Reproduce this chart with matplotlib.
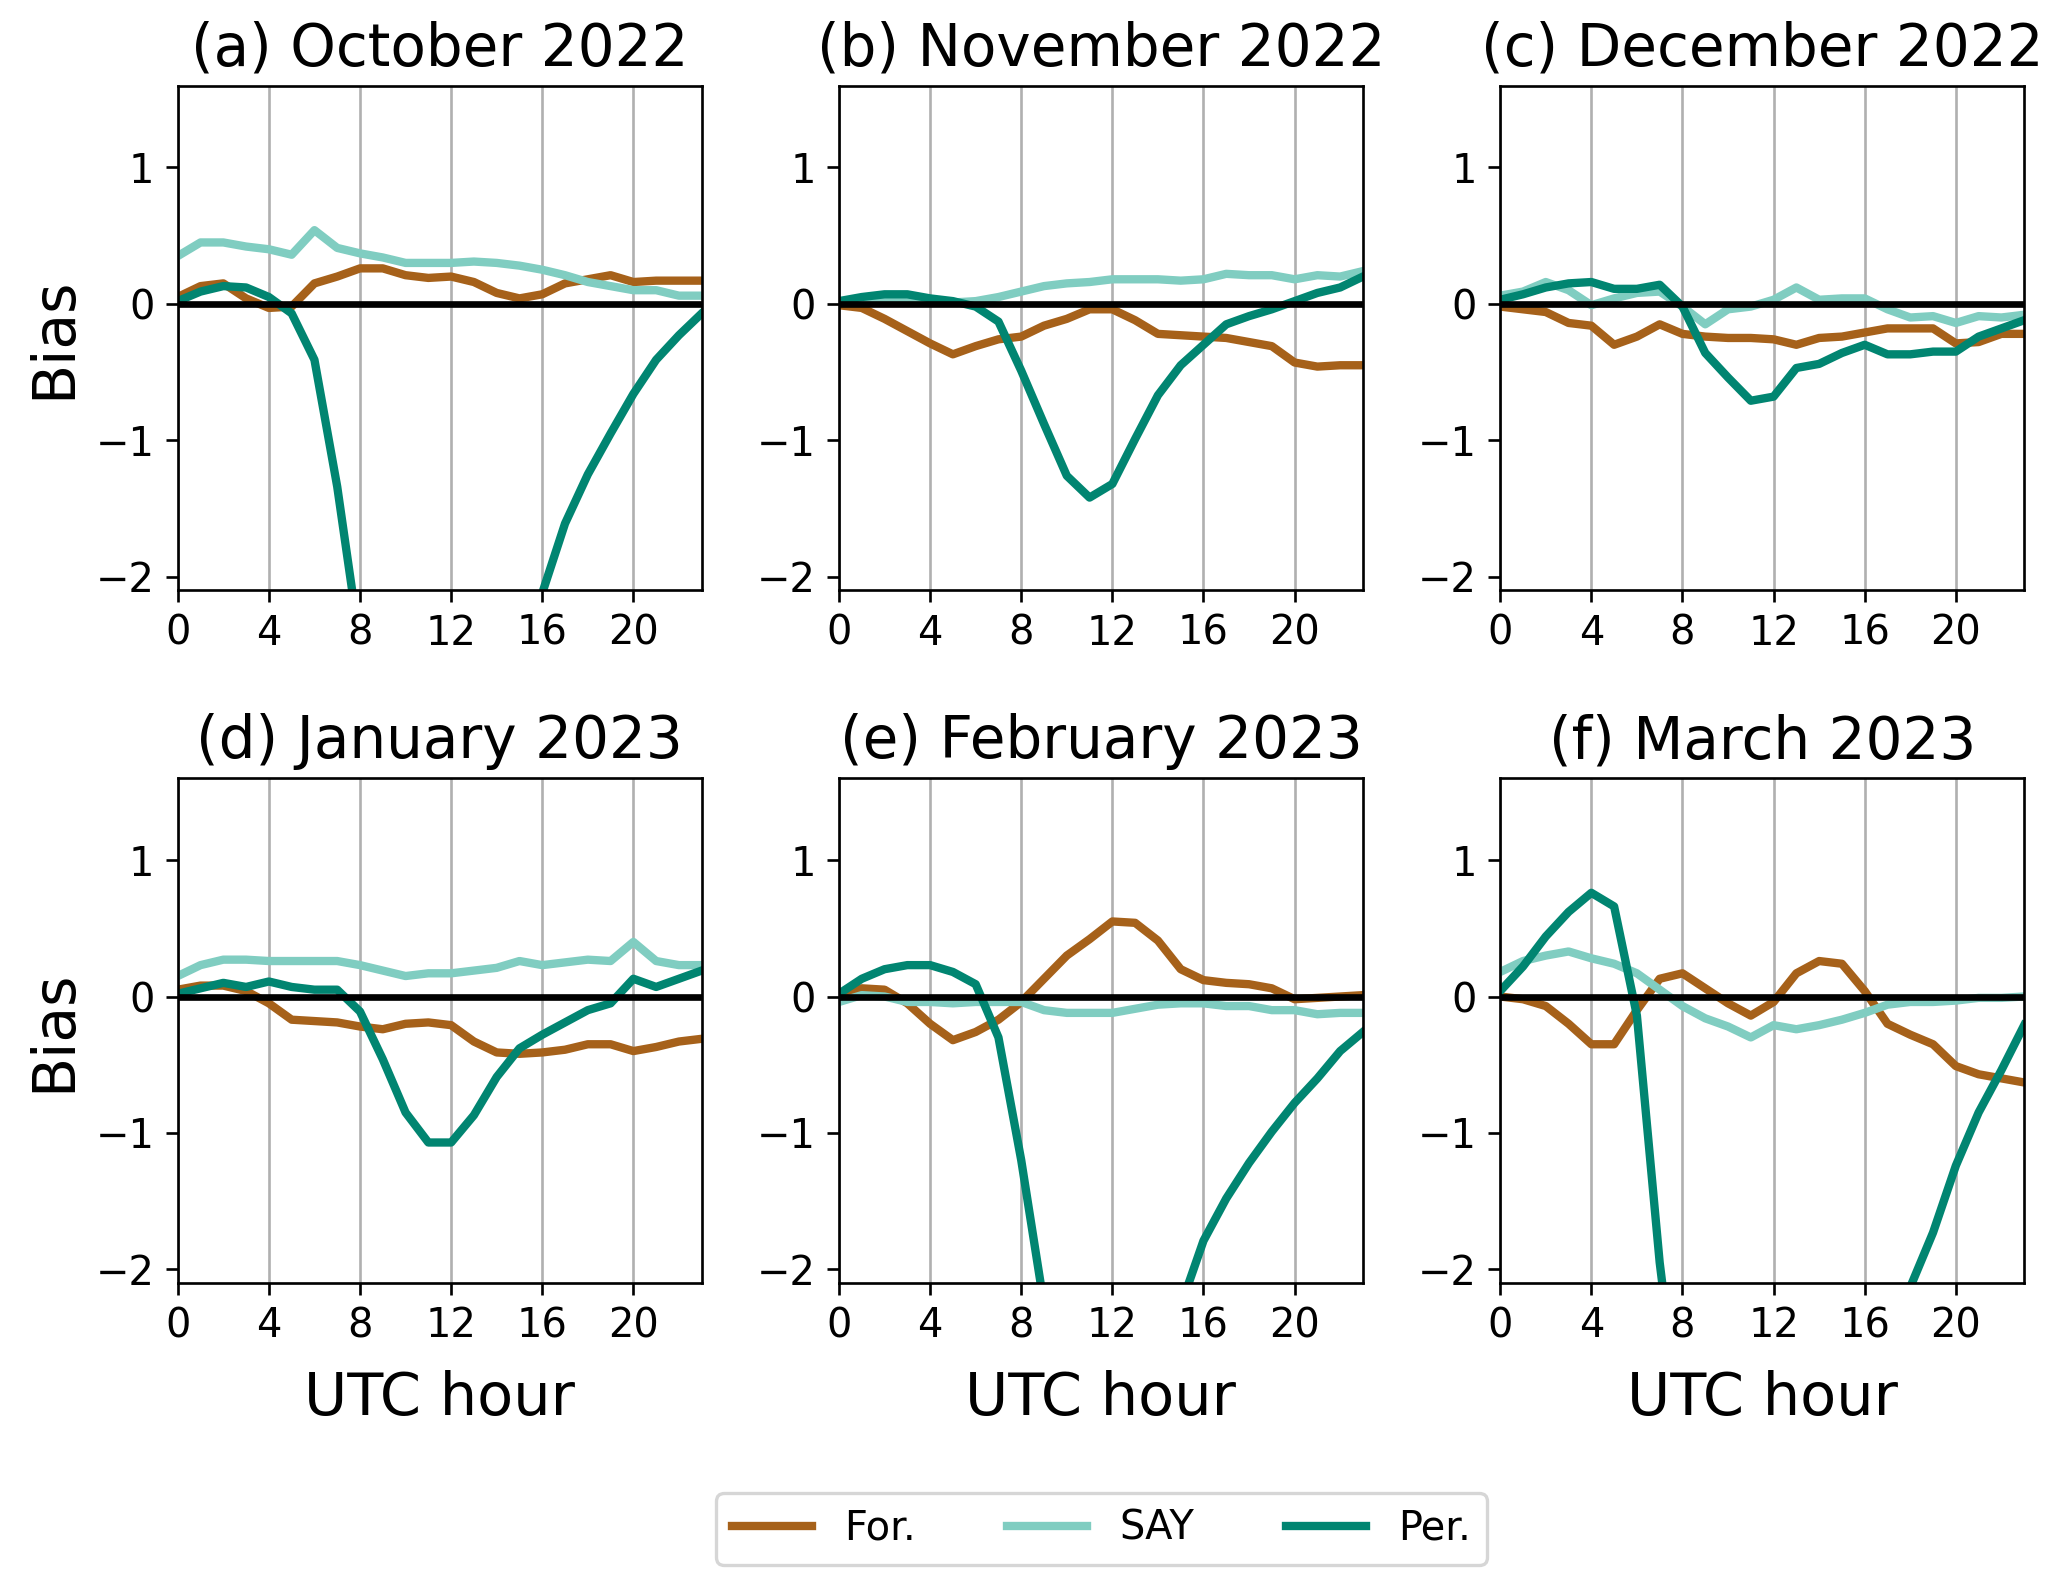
import numpy as np
import matplotlib.pyplot as plt

hours = np.arange(24)

titles = ["(a) October 2022", "(b) November 2022", "(c) December 2022",
          "(d) January 2023", "(e) February 2023", "(f) March 2023"]

# forecast bias
fore_oct = [0.05, 0.13, 0.15, 0.04, -0.03, -0.02, 0.15, 0.20, 0.26, 0.26, 0.21, 0.19,
            0.20, 0.16, 0.08, 0.04, 0.07, 0.15, 0.18, 0.21, 0.16, 0.17, 0.17, 0.17]
fore_nov = [-0.01, -0.03, -0.11, -0.20, -0.29, -0.37, -0.31, -0.26, -0.24, -0.16, -0.11, -0.04,
            -0.04, -0.12, -0.22, -0.23, -0.24, -0.25, -0.28, -0.31, -0.43, -0.46, -0.45, -0.45]
fore_dec = [-0.02, -0.04, -0.06, -0.14, -0.16, -0.30, -0.24, -0.15, -0.22, -0.24, -0.25, -0.25,
            -0.26, -0.30, -0.25, -0.24, -0.21, -0.18, -0.18, -0.18, -0.29, -0.28, -0.22, -0.22]
fore_jan = [0.05, 0.08, 0.08, 0.04, -0.05, -0.17, -0.18, -0.19, -0.22, -0.24, -0.20, -0.19,
            -0.21, -0.33, -0.41, -0.42, -0.41, -0.39, -0.35, -0.35, -0.40, -0.37, -0.33, -0.31]
fore_feb = [0.02, 0.06, 0.05, -0.05, -0.20, -0.32, -0.26, -0.17, -0.04, 0.13, 0.30, 0.42,
            0.55, 0.54, 0.41, 0.20, 0.12, 0.10, 0.09, 0.06, -0.02, -0.01, 0.00, 0.01]
fore_mar = [0.00, -0.02, -0.07, -0.20, -0.35, -0.35, -0.10, 0.13, 0.17, 0.06, -0.05, -0.14,
            -0.04, 0.17, 0.26, 0.24, 0.04, -0.20, -0.28, -0.35, -0.51, -0.57, -0.60, -0.63]

# SAY bias
say_oct = [0.35, 0.45, 0.45, 0.42, 0.40, 0.36, 0.54, 0.41, 0.37, 0.34, 0.30, 0.30,
           0.30, 0.31, 0.30, 0.28, 0.25, 0.21, 0.16, 0.13, 0.10, 0.10, 0.06, 0.06]
say_nov = [0.02, 0.02, 0.02, 0.02, 0.01, 0.01, 0.02, 0.05, 0.09, 0.13, 0.15, 0.16,
           0.18, 0.18, 0.18, 0.17, 0.18, 0.22, 0.21, 0.21, 0.18, 0.21, 0.20, 0.24]
say_dec = [0.06, 0.09, 0.16, 0.10, -0.01, 0.04, 0.08, 0.09, -0.02, -0.15, -0.04, -0.02,
           0.03, 0.12, 0.03, 0.04, 0.04, -0.04, -0.10, -0.09, -0.14, -0.09, -0.10, -0.08]
say_jan = [0.15, 0.23, 0.27, 0.27, 0.26, 0.26, 0.26, 0.26, 0.23, 0.19, 0.15, 0.17,
           0.17, 0.19, 0.21, 0.26, 0.23, 0.25, 0.27, 0.26, 0.40, 0.26, 0.23, 0.23]
say_feb = [-0.04, 0.01, 0.00, -0.04, -0.04, -0.05, -0.04, -0.04, -0.04, -0.10, -0.12, -0.12,
           -0.12, -0.09, -0.06, -0.05, -0.05, -0.07, -0.07, -0.10, -0.10, -0.13, -0.12, -0.12]
say_mar = [0.18, 0.26, 0.30, 0.33, 0.28, 0.24, 0.17, 0.05, -0.07, -0.16, -0.22, -0.30,
           -0.21, -0.24, -0.21, -0.17, -0.12, -0.06, -0.04, -0.04, -0.03, -0.01, -0.01, 0.00]

# persistence bias (values below the axis limit are estimates)
pers_oct = [0.02, 0.09, 0.13, 0.12, 0.05, -0.07, -0.41, -1.34, -2.50, -3.30, -3.80, -4.00,
            -4.00, -3.70, -3.20, -2.70, -2.12, -1.61, -1.25, -0.95, -0.66, -0.41, -0.23, -0.07]
pers_nov = [0.02, 0.05, 0.07, 0.07, 0.04, 0.02, -0.02, -0.13, -0.49, -0.88, -1.26, -1.42,
            -1.32, -0.99, -0.67, -0.45, -0.30, -0.15, -0.09, -0.04, 0.02, 0.08, 0.12, 0.20]
pers_dec = [0.03, 0.07, 0.12, 0.15, 0.16, 0.11, 0.11, 0.14, -0.02, -0.36, -0.54, -0.71,
            -0.68, -0.47, -0.44, -0.36, -0.30, -0.37, -0.37, -0.35, -0.35, -0.24, -0.18, -0.12]
pers_jan = [0.02, 0.06, 0.10, 0.07, 0.11, 0.07, 0.05, 0.05, -0.11, -0.46, -0.85, -1.07,
            -1.07, -0.87, -0.59, -0.38, -0.28, -0.19, -0.10, -0.05, 0.13, 0.07, 0.13, 0.19]
pers_feb = [0.02, 0.13, 0.20, 0.23, 0.23, 0.18, 0.09, -0.30, -1.20, -2.26, -3.00, -3.40,
            -3.50, -3.30, -2.90, -2.27, -1.79, -1.48, -1.22, -0.99, -0.78, -0.60, -0.40, -0.26]
pers_mar = [0.04, 0.22, 0.44, 0.62, 0.76, 0.66, -0.14, -1.95, -3.30, -4.00, -4.40, -4.60,
            -4.60, -4.40, -4.00, -3.60, -3.10, -2.50, -2.13, -1.73, -1.24, -0.85, -0.54, -0.21]

forecast = [fore_oct, fore_nov, fore_dec, fore_jan, fore_feb, fore_mar]
say = [say_oct, say_nov, say_dec, say_jan, say_feb, say_mar]
persistence = [pers_oct, pers_nov, pers_dec, pers_jan, pers_feb, pers_mar]

c_for, c_say, c_per = "#a6611a", "#80cdc1", "#018571"

fig, axes = plt.subplots(2, 3, figsize=(8.5625, 6.6), dpi=240)
fig.subplots_adjust(left=0.0865, right=0.985, top=0.946, bottom=0.19,
                    wspace=0.262, hspace=0.372)

for i, ax in enumerate(axes.flat):
    ax.plot(hours, forecast[i], color=c_for, lw=2.5, label="For.")
    ax.plot(hours, say[i], color=c_say, lw=2.5, label="SAY")
    ax.plot(hours, persistence[i], color=c_per, lw=2.5, label="Per.")
    ax.axhline(0, color="k", lw=2)
    ax.set_xlim(0, 23)
    ax.set_ylim(-2.1, 1.6)
    ax.set_xticks([0, 4, 8, 12, 16, 20])
    ax.set_yticks([-2, -1, 0, 1])
    ax.grid(axis="x")
    ax.tick_params(labelsize=12)
    ax.set_title(titles[i], fontsize=17.4)
    if i % 3 == 0:
        ax.set_ylabel("Bias", fontsize=17.5)
    if i >= 3:
        ax.set_xlabel("UTC hour", fontsize=17.7, labelpad=7)

handles, labels = axes[0, 0].get_legend_handles_labels()
fig.legend(handles, labels, loc="center", bbox_to_anchor=(0.536, 0.035),
           ncol=3, fontsize=12, columnspacing=2.3)

fig.savefig("out.png", dpi=240)
